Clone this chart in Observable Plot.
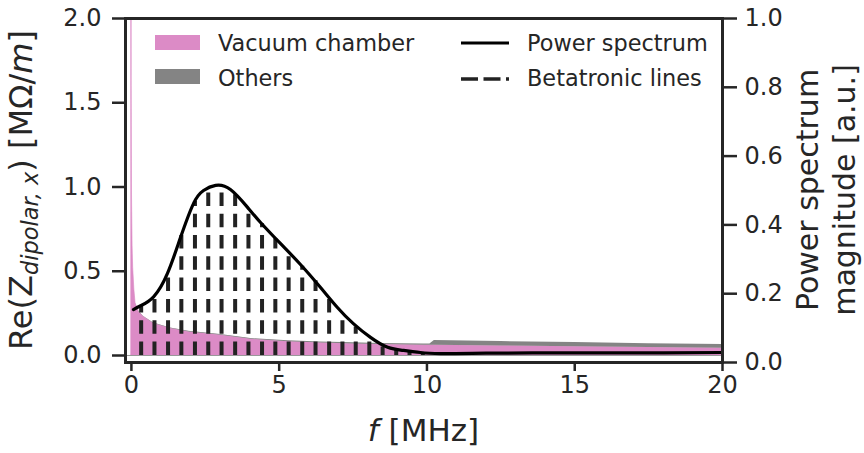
<!DOCTYPE html>
<html>
<head>
<meta charset="utf-8">
<script src="https://cdn.jsdelivr.net/npm/d3@7"></script>
<script src="https://cdn.jsdelivr.net/npm/@observablehq/plot@0.6"></script>
<style>
  html, body { margin: 0; padding: 0; background: #fff; }
  #chart svg { display: block; }
</style>
</head>
<body>
<div id="chart"></div>
<script>
// ---- data ----
// Impedance (left axis, MΩ/m)
const freq = [0, 0.005, 0.01, 0.02, 0.04, 0.06, 0.10, 0.14, 0.25, 0.41, 0.75, 1.32, 1.94, 3.02, 4.1, 5.3, 6.4, 7.5, 8.4, 9.9, 10.1, 10.25, 12.5, 15, 17.5, 20];
const vacuumChamber = [6.0, 3.0, 1.6, 0.95, 0.65, 0.52, 0.39, 0.31, 0.26, 0.23, 0.19, 0.16, 0.14, 0.12, 0.095, 0.082, 0.074, 0.069, 0.065, 0.061, 0.061, 0.061, 0.057, 0.052, 0.047, 0.043];
const others = [0, 0, 0, 0, 0, 0.001, 0.001, 0.002, 0.002, 0.002, 0.003, 0.003, 0.004, 0.004, 0.005, 0.005, 0.006, 0.006, 0.007, 0.007, 0.007, 0.028, 0.026, 0.025, 0.023, 0.022];

// Power spectrum (right axis, a.u.)
const psFreq = [0.07, 0.31, 0.75, 1.22, 1.66, 2.10, 2.44, 2.85, 3.35, 3.93, 4.37, 5.04, 5.72, 6.40, 6.97, 7.51, 8.09, 8.67, 9.21, 9.78, 10.46, 12, 14, 16, 18, 20];
const psValue = [0.154, 0.165, 0.191, 0.259, 0.363, 0.462, 0.500, 0.515, 0.503, 0.451, 0.407, 0.346, 0.285, 0.218, 0.160, 0.113, 0.073, 0.044, 0.035, 0.029, 0.026, 0.027, 0.028, 0.028, 0.028, 0.029];

// Betatronic lines (frequency, height in a.u.)
const betaFreq = [0.33, 0.78, 1.24, 1.69, 2.15, 2.60, 3.05, 3.51, 3.96, 4.42, 4.87, 5.32, 5.78, 6.23, 6.69, 7.14, 7.59, 8.05, 8.50, 8.96, 9.41, 9.86];
const betaHeight = [0.164, 0.193, 0.262, 0.370, 0.468, 0.510, 0.512, 0.488, 0.448, 0.403, 0.360, 0.320, 0.280, 0.238, 0.188, 0.143, 0.103, 0.065, 0.045, 0.037, 0.032, 0.028];

// ticks
const xTicks = [0, 5, 10, 15, 20];
const leftTicks = [0.0, 0.5, 1.0, 1.5, 2.0];
const rightTicks = [0.0, 0.2, 0.4, 0.6, 0.8, 1.0];

// ---- layout ----
const W = 864, H = 453;
const mL = 125, mR = 142, mT = 18, mB = 91;
const yMin = -0.0415, yMax = 2.0;
// right axis (0..1) spans the full frame height
const toLeft = r => yMin + r * (yMax - yMin);
const fromLeft = v => (v - yMin) / (yMax - yMin);

const ink = "#262626";
const pink = "#dc8bc6";
const grey = "#848484";

const imp = freq.map((f, i) => ({f, vc: vacuumChamber[i], top: vacuumChamber[i] + others[i]}));
const ps = psFreq.map((f, i) => ({f, y: toLeft(psValue[i])}));
const beta = betaFreq.map((f, i) => ({f, y: toLeft(betaHeight[i])}));

const chart = Plot.plot({
  width: W, height: H,
  marginLeft: mL, marginRight: mR, marginTop: mT, marginBottom: mB,
  style: {fontFamily: "DejaVu Sans", fontSize: "24px", color: ink, background: "#fff"},
  x: {domain: [-0.2, 20]},
  y: {domain: [yMin, yMax]},
  marks: [
    Plot.areaY(imp, {x: "f", y1: 0, y2: "vc", fill: pink, stroke: pink, strokeWidth: 1, strokeOpacity: 0.6, clip: true}),
    Plot.areaY(imp, {x: "f", y1: "vc", y2: "top", fill: grey, clip: true}),
    Plot.ruleY([0], {stroke: "#999", strokeWidth: 1.2}),
    Plot.ruleX(beta, {x: "f", y1: 0, y2: "y", stroke: "#222", strokeWidth: 4, strokeDasharray: "13.5,7.8"}),
    Plot.line(ps, {x: "f", y: "y", stroke: "#000", strokeWidth: 3.2, curve: "natural"}),
    Plot.axisX({ticks: xTicks, tickFormat: d => String(d), tickSize: 9, tickPadding: 4, strokeWidth: 2.5, fontSize: 24, label: null}),
    Plot.axisY({anchor: "left", ticks: leftTicks, tickFormat: d => d.toFixed(1), tickSize: 13, tickPadding: 11, strokeWidth: 2.5, fontSize: 24, label: null}),
    Plot.axisY({anchor: "right", ticks: rightTicks.map(toLeft), tickFormat: d => fromLeft(d).toFixed(1), tickSize: 14, tickPadding: 8, strokeWidth: 2.5, fontSize: 24, label: null}),
    Plot.frame({stroke: ink, strokeWidth: 3})
  ]
});
document.getElementById("chart").appendChild(chart);

// ---- labels & legend (text added in the same SVG) ----
const svg = d3.select(chart);
const font = "DejaVu Sans";

// x label
const xl = svg.append("text").attr("x", 423.5).attr("y", 441).attr("text-anchor", "middle")
  .attr("font-family", font).attr("font-size", 31).attr("fill", ink);
xl.append("tspan").attr("font-style", "italic").text("f");
xl.append("tspan").text(" [MHz]");

// left y label
const yl = svg.append("text").attr("transform", "translate(32,190) rotate(-90)").attr("text-anchor", "middle")
  .attr("font-family", font).attr("font-size", 32).attr("fill", ink);
yl.append("tspan").text("Re(Z");
yl.append("tspan").attr("font-style", "italic").attr("font-size", 22.5).attr("dy", 6).text("dipolar, x");
yl.append("tspan").attr("dy", -6).text(") [MΩ/");
yl.append("tspan").attr("font-style", "italic").text("m");
yl.append("tspan").text("]");

// right y label (two lines)
const rl = svg.append("text").attr("transform", "translate(818,190) rotate(-90)").attr("text-anchor", "middle")
  .attr("font-family", font).attr("font-size", 30).attr("fill", ink);
rl.append("tspan").attr("x", 0).attr("dy", 0).text("Power spectrum");
rl.append("tspan").attr("x", 0).attr("dy", 37).text("magnitude [a.u.]");

// legend
const lg = svg.append("g").attr("font-family", font).attr("font-size", 22.4).attr("fill", ink).attr("text-anchor", "start");
lg.append("rect").attr("x", 155).attr("y", 35).attr("width", 45).attr("height", 15).attr("fill", pink);
lg.append("text").attr("x", 218).attr("y", 51).text("Vacuum chamber");
lg.append("rect").attr("x", 155).attr("y", 69).attr("width", 45).attr("height", 15).attr("fill", grey);
lg.append("text").attr("x", 218).attr("y", 86).text("Others");
lg.append("line").attr("x1", 461).attr("x2", 509).attr("y1", 43).attr("y2", 43).attr("stroke", "#000").attr("stroke-width", 3.2);
lg.append("text").attr("x", 527).attr("y", 51).text("Power spectrum");
lg.append("line").attr("x1", 461).attr("x2", 509).attr("y1", 79).attr("y2", 79).attr("stroke", "#222").attr("stroke-width", 3.5).attr("stroke-dasharray", "17,5.5");
lg.append("text").attr("x", 527).attr("y", 86).text("Betatronic lines");
</script>
</body>
</html>
